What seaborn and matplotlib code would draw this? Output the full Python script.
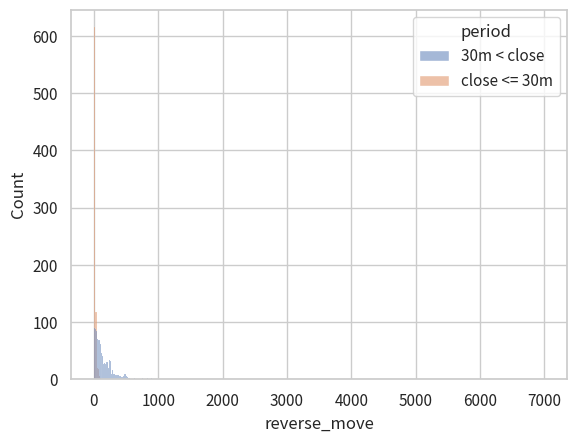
import matplotlib

matplotlib.use("Agg")

import matplotlib.pyplot as plt
import pandas as pd
import seaborn as sns


BIN_WIDTH = 15
BIN_RANGE = (0, 7005)

# bin index (bin start = index * BIN_WIDTH) and counts
LATE_BINS = [0, 1, 2, 3, 4, 5, 6, 7, 8, 9, 10, 11, 12, 13, 14, 15, 16, 17, 18, 19,
             20, 21, 22, 23, 24, 25, 26, 27, 28, 29, 30, 31, 32, 33, 34, 35, 36, 37,
             40, 42, 46, 50, 55, 59, 65, 70, 90, 120, 200, 466]
LATE_COUNTS = [89, 87, 84, 70, 69, 68, 61, 45, 40, 40, 27, 28, 26, 31, 30, 20, 33, 32, 10, 16,
               10, 9, 7, 7, 8, 8, 5, 5, 4, 4, 6, 10, 10, 6, 4, 3, 2, 1,
               1, 2, 1, 2, 2, 3, 1, 1, 1, 1, 1, 1]

CLOSE_BINS = [0, 1, 2, 3, 4, 5, 6, 8]
CLOSE_COUNTS = [615, 117, 117, 20, 18, 5, 3, 2]

PERIODS = ["30m < close", "close <= 30m"]


def build_frame() -> pd.DataFrame:
    frames = []
    for period, bins, counts in [
        (PERIODS[0], LATE_BINS, LATE_COUNTS),
        (PERIODS[1], CLOSE_BINS, CLOSE_COUNTS),
    ]:
        frames.append(pd.DataFrame({
            "reverse_move": [b * BIN_WIDTH + BIN_WIDTH / 2 for b in bins],
            "count": counts,
            "period": period,
        }))
    return pd.concat(frames, ignore_index=True)


def main():
    sns.set_theme(style="whitegrid")
    plt.rcParams["font.family"] = ["Noto Sans CJK JP", "DejaVu Sans"]

    df = build_frame()

    fig, ax = plt.subplots(figsize=(6.4, 4.8), dpi=100)
    sns.histplot(
        data=df,
        x="reverse_move",
        weights="count",
        hue="period",
        hue_order=PERIODS,
        binwidth=BIN_WIDTH,
        binrange=BIN_RANGE,
        ax=ax,
    )
    ax.set_xlabel("reverse_move")
    ax.set_ylabel("Count")
    fig.savefig("out.png", dpi=100, bbox_inches="tight")
    plt.close(fig)


if __name__ == "__main__":
    main()
